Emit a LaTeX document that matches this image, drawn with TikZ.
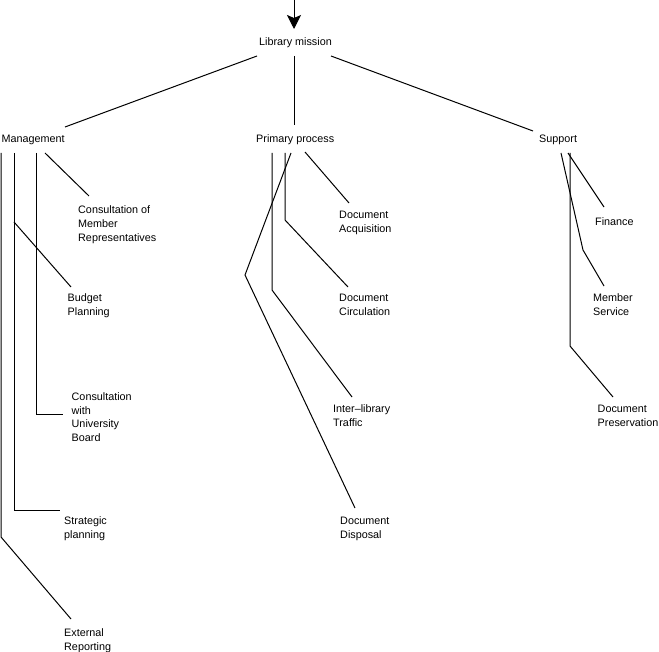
\documentclass[tikz,border=0pt]{standalone}
\usepackage{fontspec}
\setmainfont{Liberation Sans}
\usetikzlibrary{arrows.meta}
\begin{document}
\begin{tikzpicture}[x=1pt,y=-1pt,
  lbl/.style={anchor=base west,inner sep=0pt,align=left,font=\fontsize{10.8}{14}\selectfont},
  conn/.style={line width=1pt,line join=miter}]
\useasboundingbox (0,0) rectangle (659,652);
% level 0 and 1 (anchor = baseline of the last line)
\node[lbl] (lm) at (259,46) {Library mission};
\node[lbl] (mg) at (1.5,143) {Management};
\node[lbl] (pp) at (256,143) {Primary process};
\node[lbl] (su) at (539,143) {Support};
% leaves
\node[lbl] (cmr) at (78,242) {Consultation of\\Member\\Representatives};
\node[lbl] (bp) at (67.5,316) {Budget\\Planning};
\node[lbl] (cub) at (71.5,442) {Consultation\\with\\University\\Board};
\node[lbl] (stp) at (64,538) {Strategic\\planning};
\node[lbl] (exr) at (64,650) {External\\Reporting};
\node[lbl] (dac) at (339,233) {Document\\Acquisition};
\node[lbl] (dci) at (339,316) {Document\\Circulation};
\node[lbl] (ilt) at (333,427) {Inter--library\\Traffic};
\node[lbl] (ddi) at (340,538) {Document\\Disposal};
\node[lbl] (fin) at (595,226) {Finance};
\node[lbl] (msv) at (593,316) {Member\\Service};
\node[lbl] (dpr) at (597.5,427) {Document\\Preservation};
% connector end points
\coordinate (in) at (294,0);
\coordinate (lmT) at (294,29);
\coordinate (lmL) at (257,56);
\coordinate (lmC) at (294,56);
\coordinate (lmR) at (331,56);
\coordinate (mgT) at (65,127);
\coordinate (ppT) at (294,125);
\coordinate (suT) at (533,131);
% management
\coordinate (m1) at (1,153);   \coordinate (m1b) at (1,537);  \coordinate (exrE) at (71,619);
\coordinate (m2) at (14,153);  \coordinate (m2b) at (14,510); \coordinate (stpE) at (60,510);
\coordinate (m2j) at (14,222); \coordinate (bpE) at (71,287);
\coordinate (m3) at (36,153);  \coordinate (m3b) at (36,414); \coordinate (cubE) at (63,414);
\coordinate (m4) at (45,153);  \coordinate (cmrE) at (89,196);
% primary process
\coordinate (p1) at (291,153); \coordinate (p1b) at (245,275); \coordinate (ddiE) at (355,508);
\coordinate (p2) at (272,153); \coordinate (p2b) at (272,290); \coordinate (iltE) at (352,397);
\coordinate (p3) at (285,153); \coordinate (p3b) at (285,220); \coordinate (dciE) at (348,287);
\coordinate (p4) at (305,152); \coordinate (dacE) at (349,203);
% support
\coordinate (s1) at (568,153); \coordinate (finE) at (604,207);
\coordinate (s2) at (561,153); \coordinate (s2b) at (583,250); \coordinate (msvE) at (604,286);
\coordinate (s3) at (570,153); \coordinate (s3b) at (570,346); \coordinate (dprE) at (613,397);
% connectors
\draw[conn,-{Stealth[length=14pt,width=14pt,inset=3pt]}] (in) -- (lmT);
\draw[conn] (lmL) -- (mgT);
\draw[conn] (lmC) -- (ppT);
\draw[conn] (lmR) -- (suT);
\draw[conn] (m1) -- (m1b) -- (exrE);
\draw[conn] (m2) -- (m2b) -- (stpE);
\draw[conn] (m2j) -- (bpE);
\draw[conn] (m3) -- (m3b) -- (cubE);
\draw[conn] (m4) -- (cmrE);
\draw[conn] (p1) -- (p1b) -- (ddiE);
\draw[conn] (p2) -- (p2b) -- (iltE);
\draw[conn] (p3) -- (p3b) -- (dciE);
\draw[conn] (p4) -- (dacE);
\draw[conn] (s1) -- (finE);
\draw[conn] (s2) -- (s2b) -- (msvE);
\draw[conn] (s3) -- (s3b) -- (dprE);
\end{tikzpicture}
\end{document}
